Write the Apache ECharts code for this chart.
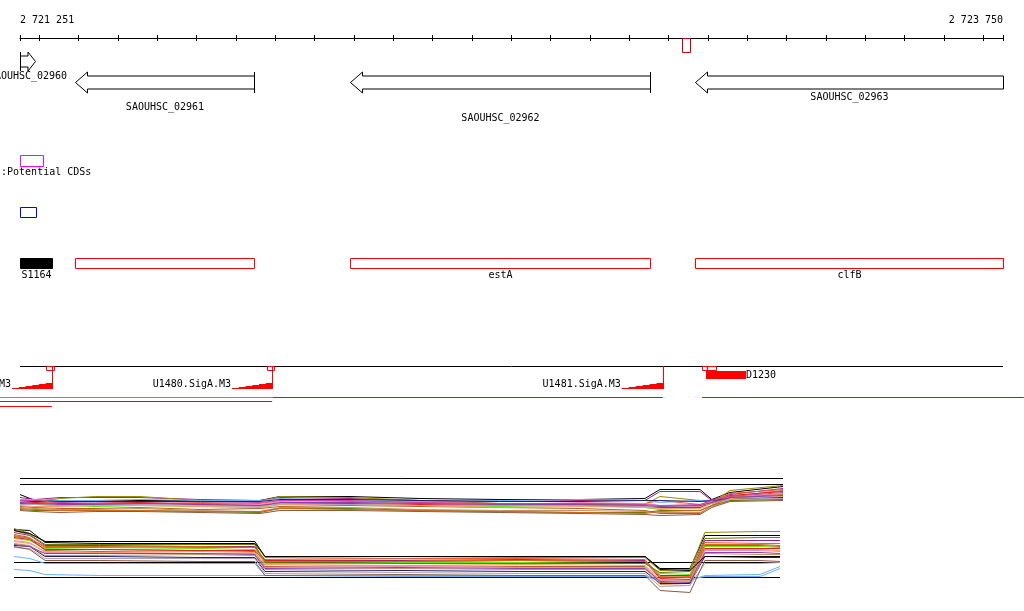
<!DOCTYPE html>
<html><head><meta charset="utf-8">
<script src="https://cdn.jsdelivr.net/npm/echarts@6/dist/echarts.min.js"></script>
<style>html,body{margin:0;padding:0;background:#fff}#c{width:1024px;height:611px}</style>
</head><body><div id="c"></div>
<script>
// ================= DATA =================
var viewStart = 2721251, viewEnd = 2723750;
var rulerTicks = [2721251, 2721300, 2721400, 2721500, 2721600, 2721700, 2721800, 2721900, 2722000,
  2722100, 2722200, 2722300, 2722400, 2722500, 2722600, 2722700, 2722800, 2722900, 2723000,
  2723100, 2723200, 2723300, 2723400, 2723500, 2723600, 2723700, 2723750];
var rulerLabels = [2721251, 2723750];
var topMarkStarts = [2722934], topMarkEnds = [2722954];

var geneNames = ['SAOUHSC_02960', 'SAOUHSC_02961', 'SAOUHSC_02962', 'SAOUHSC_02963'];
var geneStarts = [2721252, 2721391, 2722090, 2722967];
var geneEnds = [2721289, 2721846, 2722853, 2723900];
var geneStrands = ['+', '-', '-', '-'];

var cdsLabel = 's:Potential CDSs';
var cdsStarts = [2721251], cdsEnds = [2721309];
var orfStarts = [2721251], orfEnds = [2721291];

var annotNames = ['S1164', '', 'estA', 'clfB'];
var annotStarts = [2721251, 2721391, 2722090, 2722967];
var annotEnds = [2721332, 2721846, 2722853, 2723750];
var annotKinds = ['filled', 'outline', 'outline', 'outline'];

var promoterNames = ['U1479.SigA.M3', 'U1480.SigA.M3', 'U1481.SigA.M3'];
var promoterStarts = [2721231, 2721790, 2722781];
var promoterEnds = [2721332, 2721892, 2722885];
var tssStarts = [2721317, 2721879, 2722986, 2722997];
var tssEnds = [2721337, 2721897, 2722997, 2723020];
var srnaNames = ['D1230'];
var srnaStarts = [2722995], srnaEnds = [2723097];

var transcriptStarts = [2721200, 2721894, 2722985, 2721200, 2721200];
var transcriptEnds = [2721894, 2722885, 2723803, 2721892, 2721332];
var transcriptRows = [0, 0, 0, 1, 2];
var transcriptKinds = ['antisense', 'sense', 'sense', 'sense', 'sense'];

// expression profiles: upper panel
var upperX = [2721251, 2721289, 2721353, 2721442, 2721556, 2721709, 2721861, 2721912, 2722090,
  2722268, 2722471, 2722675, 2722840, 2722878, 2722980, 2723010, 2723056, 2723191];
var upperRefLevels = [42, 36];
var upper1 = [26, 20, 20, 20, 20, 20, 20, 24, 24, 22, 21, 21, 22, 31, 31, 21, 28, 34];
var upper2 = [23, 21, 23, 23, 23, 21, 20, 23, 22, 20, 19, 20, 20, 29, 29, 20, 26, 32];
var upper3 = [20, 19, 22, 24, 24, 20, 19, 24, 23, 20, 17, 16, 16, 24, 20, 18, 30, 35];
var upper4 = [18, 17, 18, 20, 19, 18, 17, 20, 19, 18, 17, 17, 17, 20, 16, 19, 27, 31];
var upper5 = [14, 13, 12, 12, 13, 11, 12, 14, 15, 14, 13, 12, 10, 7, 7, 15, 24, 30];
var upper6 = [21, 21, 20, 20, 21, 20, 20, 22, 20, 19, 20, 21, 20, 18, 20, 20, 23, 25];
var upper7 = [17, 16, 15, 14, 15, 14, 13, 16, 16, 15, 14, 15, 13, 11, 13, 18, 22, 23];
var upper8 = [19, 18, 17, 18, 18, 17, 16, 19, 18, 17, 16, 18, 17, 15, 14, 19, 23, 27];
var upper9 = [17, 18, 17, 17, 18, 16, 15, 17, 17, 16, 15, 15, 14, 13, 13, 18, 25, 29];
var upper10 = [20, 19, 19, 19, 19, 19, 19, 21, 21, 20, 19, 19, 20, 20, 19, 20, 22, 23];
var upper11 = [15, 14, 14, 15, 15, 14, 13, 16, 16, 15, 13, 14, 13, 12, 12, 17, 22, 24];
var upper12 = [13, 12, 11, 11, 12, 10, 9, 13, 13, 11, 10, 10, 9, 8, 8, 14, 20, 22];
var upper13 = [11, 10, 10, 10, 10, 9, 8, 12, 12, 10, 9, 8, 8, 10, 10, 15, 20, 21];
var upper14 = [16, 16, 15, 16, 16, 15, 14, 17, 16, 15, 15, 15, 14, 14, 15, 17, 21, 22];
var upper15 = [20, 20, 18, 17, 17, 17, 18, 20, 20, 18, 17, 17, 16, 15, 16, 20, 24, 28];
var upper16 = [12, 11, 10, 10, 10, 9, 9, 12, 11, 10, 9, 8, 7, 9, 10, 15, 23, 26];
var upper17 = [10, 9, 8, 9, 9, 8, 7, 10, 10, 9, 8, 7, 6, 5, 6, 13, 19, 20];
var upper18 = [18, 17, 16, 16, 17, 16, 15, 18, 18, 17, 16, 16, 15, 14, 15, 18, 23, 25];

// expression profiles: lower panel
var lowerX = [2721236, 2721276, 2721315, 2721454, 2721709, 2721848, 2721874, 2722217, 2722522,
  2722840, 2722878, 2722954, 2722992, 2723132, 2723183];
var lowerRefLevels = [38, 23];
var lower1 = [71, 70, 58, 57, 57, 57, 44, 44, 44, 44, 32, 32, 65, 65, 65];
var lower2 = [72, 67, 59, 59, 59, 59, 43, 42, 43, 43, 30, 31, 68, 69, 69];
var lower3 = [68, 65, 55, 55, 54, 54, 40, 40, 41, 40, 25, 25, 60, 60, 60];
var lower4 = [64, 62, 53, 53, 54, 53, 41, 42, 42, 41, 23, 24, 58, 57, 57];
var lower5 = [66, 63, 50, 49, 50, 49, 34, 35, 34, 34, 18, 17, 55, 55, 54];
var lower6 = [44, 42, 37, 37, 37, 37, 25, 24, 24, 24, 20, 20, 25, 26, 34];
var lower7 = [31, 30, 26, 25, 25, 25, 25, 25, 25, 25, 21, 21, 24, 24, 32];
var lower8 = [62, 60, 52, 51, 52, 51, 37, 38, 38, 37, 27, 26, 54, 54, 53];
var lower9 = [60, 58, 48, 48, 47, 47, 33, 34, 33, 33, 20, 19, 50, 50, 49];
var lower10 = [63, 61, 51, 51, 50, 50, 40, 39, 40, 39, 22, 21, 52, 52, 52];
var lower11 = [55, 54, 44, 44, 43, 43, 29, 30, 29, 29, 17, 17, 44, 43, 43];
var lower12 = [59, 57, 49, 48, 49, 48, 36, 35, 36, 35, 21, 20, 51, 51, 50];
var lower13 = [57, 55, 45, 45, 46, 45, 31, 32, 31, 31, 16, 15, 47, 46, 46];
var lower14 = [70, 66, 56, 56, 56, 56, 38, 37, 37, 37, 28, 29, 62, 63, 63];
var lower15 = [53, 52, 42, 42, 42, 42, 27, 28, 27, 27, 14, 15, 37, 37, 38];
var lower16 = [65, 62, 54, 54, 53, 53, 39, 39, 40, 39, 24, 23, 56, 56, 55];
var lower17 = [54, 51, 40, 40, 39, 39, 25, 26, 25, 25, 10, 8, 40, 40, 39];
var lower18 = [56, 54, 47, 47, 47, 46, 32, 33, 32, 32, 19, 18, 48, 48, 47];
var lower19 = [70, 67, 59, 59, 59, 59, 44, 44, 44, 44, 31, 30, 44, 44, 44];

// ================= STYLE / LAYOUT =================
var FONT = '10px "DejaVu Sans Mono", monospace';
var X0 = 20, X1 = 1003;
var LAYOUT = { geneRow: [0, 1, 1, 1], geneLabelLevel: [0, 1, 2, 0] };
var upperSeries = [upper1, upper2, upper3, upper4, upper5, upper6, upper7, upper8, upper9, upper10,
  upper11, upper12, upper13, upper14, upper15, upper16, upper17, upper18];
var upperColors = ['#000000', '#a0207f', '#998c00', '#ff5533', '#b0602a', '#66b2ff', '#55ee00', '#ee88bb',
  '#dd2222', '#202060', '#ff9966', '#c89060', '#6a7a00', '#b0a0c0', '#cc44aa', '#d2691e', '#8b5a3c', '#8844aa'];
var lowerSeries = [lower1, lower2, lower3, lower4, lower5, lower6, lower7, lower8, lower9, lower10,
  lower11, lower12, lower13, lower14, lower15, lower16, lower17, lower18, lower19];
var lowerColors = ['#000000', '#998c00', '#a0207f', '#ff5533', '#b0602a', '#66b2ff', '#66b2ff', '#55ee00',
  '#ee88bb', '#dd2222', '#202060', '#ff9966', '#c89060', '#6a7a00', '#b0a0c0', '#d2691e', '#8b5a3c', '#8844aa', '#000000'];
var transcriptColors = { antisense: '#00ee00', sense: '#ff0000' };
var transcriptRowY = [397.5, 401.5, 406.5];

function cr(v) { return Math.round(v) + 0.5; }
function px(api, v) { return api.coord([v, 100])[0]; }
function spaced(v) { return String(v).replace(/\B(?=(\d{3})+(?!\d))/g, ' '); }

function renderGene(params, api) {
  var i = api.value(2);
  var s = px(api, api.value(0)), e = px(api, api.value(1));
  var clipS = s < X0 - 0.5, clipE = e > X1 + 0.5;
  s = cr(Math.max(s, X0)); e = cr(Math.min(e, X1));
  var row = LAYOUT.geneRow[i];
  var cy = row === 0 ? 61.5 : 82.5, hh = row === 0 ? 9.5 : 10.5, bh = row === 0 ? 5.5 : 6.5;
  var hl = Math.min(12, (e - s) / 2);
  var pts;
  if (geneStrands[i] === '-') pts = [[s, cy], [s + hl, cy - hh], [s + hl, cy - bh], [e, cy - bh], [e, cy + bh], [s + hl, cy + bh], [s + hl, cy + hh]];
  else pts = [[e, cy], [e - hl, cy - hh], [e - hl, cy - bh], [s, cy - bh], [s, cy + bh], [e - hl, cy + bh], [e - hl, cy + hh]];
  var ch = [{ type: 'polygon', shape: { points: pts }, style: { fill: '#fff', stroke: '#000', lineWidth: 1 } }];
  var barX = geneStrands[i] === '-' ? (clipE ? null : e) : (clipS ? null : s);
  if (barX !== null) ch.push({ type: 'line', shape: { x1: barX, y1: cy - hh, x2: barX, y2: cy + hh }, style: { stroke: '#000', lineWidth: 1 } });
  ch.push({ type: 'text', style: { text: geneNames[i], x: (s + e) / 2, y: cy + 14.5 + LAYOUT.geneLabelLevel[i] * 10.5, fill: '#000', font: FONT, align: 'center', verticalAlign: 'middle' } });
  return { type: 'group', children: ch };
}
function boxRenderer(y0, y1, color, filled) {
  return function (params, api) {
    var s = cr(px(api, api.value(0))), e = cr(Math.min(px(api, api.value(1)), X1));
    return { type: 'rect', shape: { x: s, y: y0 + 0.5, width: e - s, height: y1 - y0 }, style: { fill: filled ? color : 'none', stroke: color, lineWidth: 1 } };
  };
}
function renderAnnot(params, api) {
  var i = api.value(2);
  var s = cr(px(api, api.value(0))), e = cr(Math.min(px(api, api.value(1)), X1));
  var filled = annotKinds[i] === 'filled';
  var color = filled ? '#000' : '#ff0000';
  return { type: 'group', children: [
    { type: 'rect', shape: { x: s, y: 258.5, width: e - s, height: 10 }, style: { fill: filled ? '#000' : 'none', stroke: color, lineWidth: 1 } },
    { type: 'text', style: { text: annotNames[i], x: (s + e) / 2, y: 275, fill: '#000', font: FONT, align: 'center', verticalAlign: 'middle' } }
  ] };
}
function renderPromoter(params, api) {
  var i = api.value(2);
  var s = px(api, api.value(0)), e = cr(px(api, api.value(1)));
  var base = 389, pts = [[s, base]], n = 6, w = (e - s) / n;
  for (var k = 0; k < n; k++) { var h = k + 1; pts.push([s + k * w, base - h]); pts.push([s + (k + 1) * w, base - h]); }
  pts.push([e, base]);
  return { type: 'group', children: [
    { type: 'polygon', shape: { points: pts }, style: { fill: '#ff0000' } },
    { type: 'line', shape: { x1: e, y1: 366, x2: e, y2: base }, style: { stroke: '#ff0000', lineWidth: 1 } },
    { type: 'text', style: { text: promoterNames[i], x: s - 1, y: 384, fill: '#000', font: FONT, align: 'right', verticalAlign: 'middle' } }
  ] };
}
function renderSrna(params, api) {
  var i = api.value(2);
  var s = Math.round(px(api, api.value(0))), e = Math.round(px(api, api.value(1)));
  return { type: 'group', children: [
    { type: 'rect', shape: { x: s, y: 371, width: e - s, height: 8 }, style: { fill: '#ff0000' } },
    { type: 'text', style: { text: srnaNames[i], x: e, y: 375, fill: '#000', font: FONT, align: 'left', verticalAlign: 'middle' } }
  ] };
}
function renderTranscript(params, api) {
  var i = api.value(2);
  var s = px(api, api.value(0)), e = px(api, api.value(1)), y = transcriptRowY[transcriptRows[i]];
  return { type: 'line', shape: { x1: s, y1: y, x2: e, y2: y }, style: { stroke: transcriptColors[transcriptKinds[i]], lineWidth: 1 } };
}
function renderTrackLine(params, api) {
  return { type: 'line', shape: { x1: px(api, api.value(0)), y1: 366.5, x2: px(api, api.value(1)), y2: 366.5 }, style: { stroke: '#000', lineWidth: 1 } };
}
function renderLabelAt(text, y) {
  return function (params, api) {
    return { type: 'text', style: { text: text, x: -5, y: y, fill: '#000', font: FONT, align: 'left', verticalAlign: 'middle' } };
  };
}
function items(starts, ends) { return starts.map(function (s, i) { return [s, ends[i], i]; }); }
function custom(render, data) {
  return { type: 'custom', xAxisIndex: 0, yAxisIndex: 0, renderItem: render, data: data, encode: { x: [0, 1], y: 2 }, silent: true, clip: false };
}

var series = [
  custom(boxRenderer(38, 52, '#cc0000', false), items(topMarkStarts, topMarkEnds)),
  custom(renderGene, items(geneStarts, geneEnds)),
  custom(boxRenderer(155, 166, '#ff00ff', false), items(cdsStarts, cdsEnds)),
  custom(renderLabelAt(cdsLabel, 172), [[viewStart, viewStart, 0]]),
  custom(boxRenderer(207, 217, '#0000ff', false), items(orfStarts, orfEnds)),
  custom(renderAnnot, items(annotStarts, annotEnds)),
  custom(renderTrackLine, [[viewStart, viewEnd, 0]]),
  custom(renderPromoter, items(promoterStarts, promoterEnds)),
  custom(renderSrna, items(srnaStarts, srnaEnds)),
  custom(boxRenderer(366, 370, '#ff0000', false), items(tssStarts, tssEnds)),
  custom(renderTranscript, items(transcriptStarts, transcriptEnds))
];
function lineSeries(xs, vals, color, axis) {
  return { type: 'line', xAxisIndex: axis, yAxisIndex: axis, data: xs.map(function (x, k) { return [x, vals[k]]; }),
    showSymbol: false, symbol: 'none', lineStyle: { color: color, width: 1 }, silent: true, z: 3 };
}
upperRefLevels.forEach(function (v) { series.push(lineSeries([upperX[0], upperX[upperX.length - 1]], [v, v], '#000', 2)); });
lowerRefLevels.forEach(function (v) { series.push(lineSeries([lowerX[0], lowerX[lowerX.length - 1]], [v, v], '#000', 3)); });
upperSeries.forEach(function (s, i) { series.push(lineSeries(upperX, s, upperColors[i], 2)); });
lowerSeries.forEach(function (s, i) { series.push(lineSeries(lowerX, s, lowerColors[i], 3)); });

var chart = echarts.init(document.getElementById('c'), null, { renderer: 'canvas' });
chart.setOption({
  animation: false,
  backgroundColor: '#fff',
  grid: [
    { left: 20, right: 21, top: 38, bottom: 0 },
    { left: 20, width: 763, top: 470.5, height: 50 },
    { left: 14, width: 766, top: 520.5, height: 80 },
    { left: 20, right: 21, top: 38, height: 10 }
  ],
  xAxis: [
    { type: 'value', gridIndex: 0, min: viewStart, max: viewEnd, position: 'top',
      axisLine: { show: true, onZero: false, lineStyle: { color: '#000', width: 1 } },
      axisTick: { show: true, inside: false, length: 3, customValues: rulerTicks, lineStyle: { color: '#000' } },
      axisLabel: { show: true, customValues: rulerLabels, formatter: spaced, margin: 13, color: '#000', fontFamily: 'DejaVu Sans Mono', fontSize: 10, alignMinLabel: 'left', alignMaxLabel: 'right' },
      splitLine: { show: false } },
    { type: 'value', gridIndex: 3, min: viewStart, max: viewEnd, position: 'top',
      axisLine: { show: false, onZero: false },
      axisTick: { show: true, inside: true, length: 3, customValues: rulerTicks, lineStyle: { color: '#000' } },
      axisLabel: { show: false }, splitLine: { show: false } },
    { type: 'value', gridIndex: 1, min: upperX[0], max: upperX[upperX.length - 1], show: false },
    { type: 'value', gridIndex: 2, min: lowerX[0], max: lowerX[lowerX.length - 1], show: false }
  ],
  yAxis: [
    { type: 'value', gridIndex: 0, min: 0, max: 600, show: false },
    { type: 'value', gridIndex: 3, min: 0, max: 1, show: false },
    { type: 'value', gridIndex: 1, min: 0, max: 50, show: false },
    { type: 'value', gridIndex: 2, min: 0, max: 80, show: false }
  ],
  series: series
});
</script></body></html>
